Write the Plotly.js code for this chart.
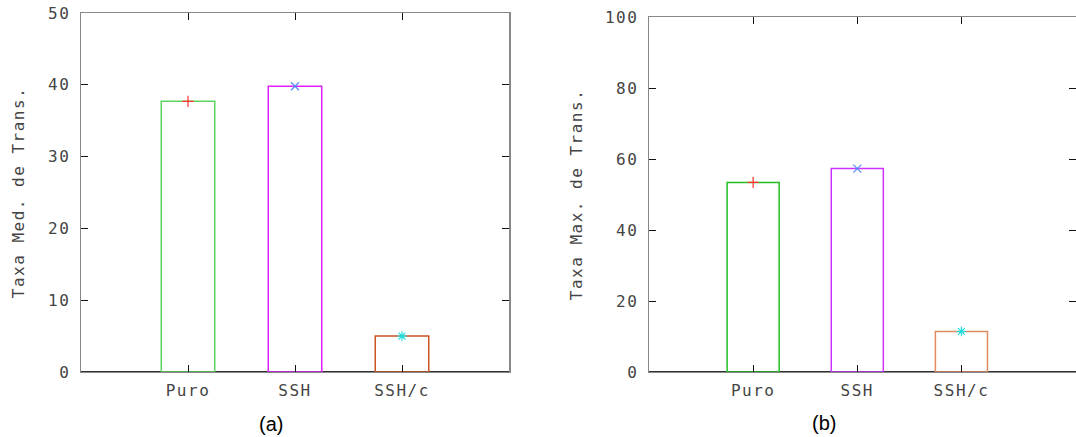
<!DOCTYPE html>
<html><head><meta charset="utf-8">
<script src="https://cdn.plot.ly/plotly-3.0.1.min.js"></script>
<style>
html,body{margin:0;padding:0;background:#fff;}
#chart{width:1076px;height:437px;}
.xtick text,.ytick text,.x2tick text,.y2tick text{letter-spacing:1.5px;}
</style>
</head><body>
<div id="chart"></div>
<script>
const categories = ["Puro", "SSH", "SSH/c"];
const catPos = [1, 2, 3];
const mediaValues = [37.7, 39.8, 5.0];
const maxValues = [53.4, 57.3, 11.4];
const barColorsA = ["#5fd35f", "#dd22ff", "#cc5522"];
const barColorsB = ["#22c022", "#cc33ff", "#e08a60"];
const markerSymbols = ["cross-thin-open", "x-thin-open", "asterisk-open"];
const markerColors = ["#ff3030", "#4f8fff", "#22dddd"];

const mono = "DejaVu Sans Mono";
const traces = [];
function addPanel(vals, colors, xa, ya) {
  traces.push({
    type: "bar", x: catPos, y: vals, width: 0.5,
    xaxis: xa, yaxis: ya,
    marker: {color: "rgba(255,255,255,0)", line: {color: colors, width: 1.5}},
    hoverinfo: "skip", showlegend: false
  });
  for (let i = 0; i < vals.length; i++) {
    traces.push({
      type: "scatter", mode: "markers", x: [catPos[i]], y: [vals[i]],
      xaxis: xa, yaxis: ya, showlegend: false,
      marker: {symbol: markerSymbols[i], size: 8, color: markerColors[i], line: {color: markerColors[i], width: 1.2}}
    });
  }
}
addPanel(mediaValues, barColorsA, "x", "y");
addPanel(maxValues, barColorsB, "x2", "y2");

const W = 1076, H = 437;
const tickFont = {family: mono, size: 16, color: "#444"};
function xax(domain, range, anchor) {
  return {
    domain: domain, range: range, anchor: anchor,
    tickmode: "array", tickvals: catPos, ticktext: categories,
    ticks: "inside", ticklen: 7, tickcolor: "#111", tickwidth: 1,
    showline: true, linecolor: "#888", linewidth: 1, mirror: "ticks",
    showgrid: false, zeroline: false, tickfont: tickFont, ticklabelstandoff: 4
  };
}
function yax(domain, range, dtick, anchor) {
  return {
    domain: domain, range: range, dtick: dtick, anchor: anchor,
    ticks: "inside", ticklen: 7, tickcolor: "#111", tickwidth: 1,
    showline: true, linecolor: "#888", linewidth: 1.5, mirror: "ticks",
    showgrid: false, zeroline: true, zerolinecolor: "#333", zerolinewidth: 1.5,
    tickfont: tickFont, ticklabelstandoff: 6
  };
}
const layout = {
  width: W, height: H,
  margin: {l: 0, r: 0, t: 0, b: 0, pad: 0},
  paper_bgcolor: "#fff", plot_bgcolor: "#fff",
  showlegend: false,
  xaxis: xax([81 / W, 509 / W], [0, 4], "y"),
  yaxis: yax([(H - 372) / H, (H - 13) / H], [0, 50], 10, "x"),
  xaxis2: xax([649 / W, 1], [0, 4.1], "y2"),
  yaxis2: yax([(H - 372) / H, (H - 17) / H], [0, 100], 20, "x2"),
  annotations: [
    {text: "Taxa Med. de Trans.", xref: "paper", yref: "paper", x: 18 / W, y: (H - 193) / H,
     textangle: -90, showarrow: false, font: {family: mono, size: 16, color: "#444"}, xanchor: "center", yanchor: "middle"},
    {text: "Taxa Max. de Trans.", xref: "paper", yref: "paper", x: 576 / W, y: (H - 195) / H,
     textangle: -90, showarrow: false, font: {family: mono, size: 16, color: "#444"}, xanchor: "center", yanchor: "middle"},
    {text: "(a)", xref: "paper", yref: "paper", x: 271 / W, y: (H - 424) / H, showarrow: false,
     font: {family: "Liberation Sans", size: 20, color: "#000"}, xanchor: "center", yanchor: "middle"},
    {text: "(b)", xref: "paper", yref: "paper", x: 824 / W, y: (H - 423) / H, showarrow: false,
     font: {family: "Liberation Sans", size: 20, color: "#000"}, xanchor: "center", yanchor: "middle"}
  ]
};
Plotly.newPlot("chart", traces, layout, {staticPlot: true, displayModeBar: false}).then(() => {
  document.querySelectorAll(".annotation-text").forEach(t => {
    if (t.textContent.indexOf("Taxa") === 0) t.style.letterSpacing = "1.5px";
  });
});
</script>
</body></html>
